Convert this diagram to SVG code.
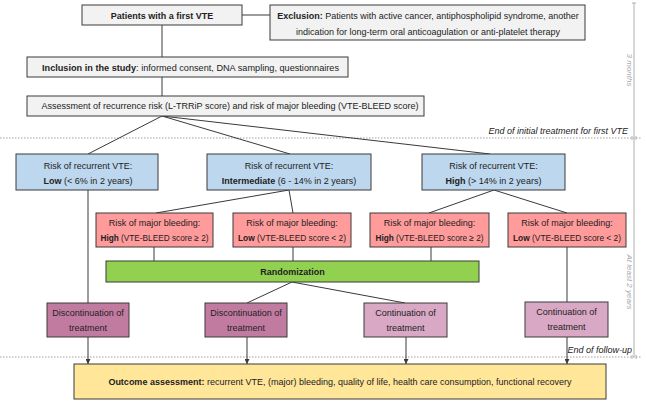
<svg xmlns="http://www.w3.org/2000/svg" width="646" height="403" viewBox="0 0 646 403">
<defs>
<style>
text{font-family:"Liberation Sans",Arial,sans-serif;font-size:9px;fill:#222;text-anchor:middle}
.b{font-weight:bold}
.box{stroke:#3a3a3a;stroke-width:1}
.gray{fill:#f2f2f2}
.blue{fill:#bdd7ee}
.red{fill:#ff9b9b}
.green{fill:#92d050}
.disc{fill:#c27ba0}
.cont{fill:#d9a8c4}
.out{fill:#ffe699}
.ln{stroke:#3a3a3a;stroke-width:1;fill:none}
.dot{stroke:#a0a0a0;stroke-width:1;stroke-dasharray:1.5 1.5;fill:none}
.tl{stroke:#b0b0b0;stroke-width:1;fill:none}
.side{font-style:italic;fill:#aaa;font-size:8px}
.note{font-style:italic;text-anchor:end;font-size:9px}
</style>
<marker id="arr" viewBox="0 0 6 6" refX="6" refY="3" markerWidth="5" markerHeight="5" orient="auto" markerUnits="userSpaceOnUse">
<path d="M0,0 L6,3 L0,6 z" fill="#3a3a3a"/>
</marker>
</defs>
<rect width="646" height="403" fill="#fff"/>

<g id="timeline">
<line class="dot" x1="0" y1="138" x2="641" y2="138"/>
<line class="dot" x1="0" y1="357" x2="641" y2="357"/>
<line class="tl" x1="634" y1="3" x2="634" y2="357"/>
<line class="tl" x1="632" y1="3" x2="636" y2="3"/>
<line class="tl" x1="632" y1="136" x2="632" y2="140"/>
<line class="tl" x1="636" y1="136" x2="636" y2="140"/>
<line class="tl" x1="632" y1="355" x2="632" y2="359"/>
<line class="tl" x1="636" y1="355" x2="636" y2="359"/>
<text class="side" transform="translate(626.5,70) rotate(90)">3 months</text>
<text class="side" transform="translate(626.5,282) rotate(90)">At least 2 years</text>
<text class="note" x="628" y="134">End of initial treatment for first VTE</text>
<text class="note" x="632" y="353">End of follow-up</text>
</g>

<g id="connectors">
<line class="ln" x1="242" y1="15" x2="270" y2="15"/>
<line class="ln" x1="162" y1="25" x2="162" y2="57"/>
<line class="ln" x1="162" y1="77" x2="162" y2="96"/>
<line class="ln" x1="162" y1="116" x2="88" y2="154"/>
<line class="ln" x1="162" y1="116" x2="290" y2="154"/>
<line class="ln" x1="162" y1="116" x2="490" y2="154"/>
<line class="ln" x1="289" y1="190" x2="156" y2="213"/>
<line class="ln" x1="289" y1="190" x2="293" y2="213"/>
<line class="ln" x1="494" y1="190" x2="429" y2="213"/>
<line class="ln" x1="494" y1="190" x2="567" y2="213"/>
<line class="ln" x1="154" y1="247" x2="154" y2="261"/>
<line class="ln" x1="293" y1="247" x2="293" y2="261"/>
<line class="ln" x1="431" y1="247" x2="431" y2="261"/>
<line class="ln" x1="567" y1="247" x2="567" y2="302"/>
<line class="ln" x1="88" y1="190" x2="88" y2="303"/>
<line class="ln" x1="292" y1="282" x2="247" y2="303"/>
<line class="ln" x1="292" y1="282" x2="405" y2="303"/>
<line class="ln" x1="88" y1="337" x2="88" y2="364" marker-end="url(#arr)"/>
<line class="ln" x1="247" y1="337" x2="247" y2="364" marker-end="url(#arr)"/>
<line class="ln" x1="406" y1="337" x2="406" y2="364" marker-end="url(#arr)"/>
<line class="ln" x1="567" y1="337" x2="567" y2="364" marker-end="url(#arr)"/>
</g>

<g id="patients">
<rect class="box gray" x="82" y="5" width="160" height="20"/>
<text class="b" x="162" y="18.5">Patients with a first VTE</text>
</g>

<g id="exclusion">
<rect class="box gray" x="270" y="5" width="315" height="35"/>
<text x="428" y="19.3"><tspan class="b">Exclusion:</tspan> Patients with active cancer, antiphospholipid syndrome, another</text>
<text x="428" y="35">indication for long-term oral anticoagulation or anti-platelet therapy</text>
</g>

<g id="inclusion">
<rect class="box gray" x="27" y="57" width="321" height="20"/>
<text x="190.5" y="70.5" textLength="297" lengthAdjust="spacingAndGlyphs"><tspan class="b">Inclusion in the study</tspan>: informed consent, DNA sampling, questionnaires</text>
</g>

<g id="assessment">
<rect class="box gray" x="27" y="96" width="397" height="20"/>
<text x="230" y="109.3">Assessment of recurrence risk (L-TRRiP score) and risk of major bleeding (VTE-BLEED score)</text>
</g>

<g id="risk-low">
<rect class="box blue" x="16" y="154" width="142" height="36"/>
<text x="88" y="169.3">Risk of recurrent VTE:</text>
<text x="88" y="184.3"><tspan class="b">Low</tspan> (&lt; 6% in 2 years)</text>
</g>

<g id="risk-intermediate">
<rect class="box blue" x="207" y="154" width="164" height="36"/>
<text x="289" y="169.3">Risk of recurrent VTE:</text>
<text x="289" y="184.3"><tspan class="b">Intermediate</tspan> (6 - 14% in 2 years)</text>
</g>

<g id="risk-high">
<rect class="box blue" x="422" y="154" width="143" height="36"/>
<text x="493.5" y="169.3">Risk of recurrent VTE:</text>
<text x="493.5" y="184.3"><tspan class="b">High</tspan> (&gt; 14% in 2 years)</text>
</g>

<g id="bleed-int-high">
<rect class="box red" x="96" y="213" width="117" height="34"/>
<text x="154.5" y="226.3">Risk of major bleeding:</text>
<text x="154.5" y="241.3" textLength="108" lengthAdjust="spacingAndGlyphs"><tspan class="b">High</tspan> (VTE-BLEED score ≥ 2)</text>
</g>

<g id="bleed-int-low">
<rect class="box red" x="233" y="213" width="118" height="34"/>
<text x="292" y="226.3">Risk of major bleeding:</text>
<text x="292" y="241.3" textLength="108" lengthAdjust="spacingAndGlyphs"><tspan class="b">Low</tspan> (VTE-BLEED score &lt; 2)</text>
</g>

<g id="bleed-high-high">
<rect class="box red" x="370" y="213" width="119" height="34"/>
<text x="429.5" y="226.3">Risk of major bleeding:</text>
<text x="429.5" y="241.3" textLength="108" lengthAdjust="spacingAndGlyphs"><tspan class="b">High</tspan> (VTE-BLEED score ≥ 2)</text>
</g>

<g id="bleed-high-low">
<rect class="box red" x="508" y="213" width="118" height="34"/>
<text x="567" y="226.3">Risk of major bleeding:</text>
<text x="567" y="241.3" textLength="108" lengthAdjust="spacingAndGlyphs"><tspan class="b">Low</tspan> (VTE-BLEED score &lt; 2)</text>
</g>

<g id="randomization">
<rect class="box green" x="106" y="261" width="373" height="21"/>
<text class="b" x="292.5" y="274.8">Randomization</text>
</g>

<g id="discontinuation-1">
<rect class="box disc" x="47" y="303" width="82" height="34"/>
<text x="88" y="316.3">Discontinuation of</text>
<text x="88" y="331.3">treatment</text>
</g>

<g id="discontinuation-2">
<rect class="box disc" x="205" y="303" width="82" height="34"/>
<text x="246" y="316.3">Discontinuation of</text>
<text x="246" y="331.3">treatment</text>
</g>

<g id="continuation-1">
<rect class="box cont" x="364" y="303" width="83" height="34"/>
<text x="405.5" y="316.3">Continuation of</text>
<text x="405.5" y="331.3">treatment</text>
</g>

<g id="continuation-2">
<rect class="box cont" x="525" y="302" width="83" height="35"/>
<text x="566.5" y="315.3">Continuation of</text>
<text x="566.5" y="330.3">treatment</text>
</g>

<g id="outcome">
<rect class="box out" x="74" y="364" width="532" height="35"/>
<text x="340" y="384.5"><tspan class="b">Outcome assessment:</tspan> recurrent VTE, (major) bleeding, quality of life, health care consumption, functional recovery</text>
</g>
</svg>
